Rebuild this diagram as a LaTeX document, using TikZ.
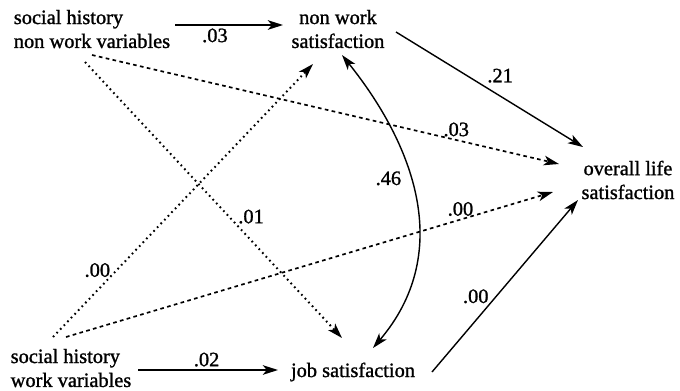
\documentclass[tikz,border=0pt]{standalone}
\usepackage{fontspec}
\setmainfont{Liberation Serif}
\newfontfamily\pathfont{Liberation Serif}[FakeBold=1.2]
\usepackage{tikz}
\usetikzlibrary{arrows.meta,calc}
\tikzset{
  var/.style={align=center, inner sep=0pt, font=\pathfont\fontsize{14.5}{17}\selectfont},
  lvar/.style={var, align=left},
  arr/.style={-{Stealth[length=3.8mm, width=2.4mm, inset=1mm]}, line width=1pt},
  darr/.style={arr, line width=1.2pt, dash pattern=on 2.6pt off 2.4pt},
  parr/.style={arr, line width=1.4pt, dash pattern=on 1.2pt off 2.5pt},
  barr/.style={{Stealth[length=3.8mm, width=2.4mm, inset=1mm]}-{Stealth[length=3.8mm, width=2.4mm, inset=1mm]}, line width=1pt},
  lbl/.style={font=\pathfont\fontsize{14.5}{17}\selectfont, inner sep=2pt}
}
\begin{document}
\begin{tikzpicture}[x=0.025cm, y=-0.025cm]
\useasboundingbox (0,0) rectangle (680,390);
\node[lvar] (nwvar) at (92,29) {social history\\non work variables};
\node[var] (nwsat) at (338,29) {non work\\satisfaction};
\node[var] (life) at (628,180) {overall life\\satisfaction};
\node[lvar] (wvar) at (71,368) {social history\\work variables};
\node[var] (job) at (353,372) {job satisfaction};
% direct paths
\draw[arr] ($(nwvar)+(83,-4)$) -- node[lbl, pos=.37, below] (l1) {.03} ($(nwsat)+(-55,-4)$);
\draw[arr] ($(nwsat)+(58,3)$) -- node[lbl, pos=.47, above right] (l2) {.21} ($(life)+(-45,-33)$);
\draw[arr] ($(wvar)+(67,2)$) -- node[lbl, pos=.49, above] (l7) {.02} ($(job)+(-75,-2)$);
\draw[arr] ($(job)+(79,0)$) -- node[lbl, pos=.44, left=3pt] (l8) {.00} ($(life)+(-50,20)$);
% cross paths
\draw[darr] ($(nwvar)+(0,26)$) -- node[lbl, pos=.78, above] (l3) {.03} ($(life)+(-69,-16)$);
\draw[parr] ($(nwvar)+(-7,33)$) -- node[lbl, pos=.56, right=4pt] (l4) {.01} ($(job)+(-11,-34)$);
\draw[parr] ($(wvar)+(-18,-31)$) -- node[lbl, pos=.245, left=2pt] (l5) {.00} ($(nwsat)+(-25,35)$);
\draw[darr] ($(wvar)+(-5,-31)$) -- node[lbl, pos=.81, above] (l6) {.00} ($(life)+(-75,12)$);
% correlation
\draw[barr] ($(nwsat)+(4,26)$) .. controls +(76,95) and +(79,-93) .. node[lbl, pos=.42, left=4pt] (l9) {.46} ($(job)+(20,-24)$);
\end{tikzpicture}
\end{document}
